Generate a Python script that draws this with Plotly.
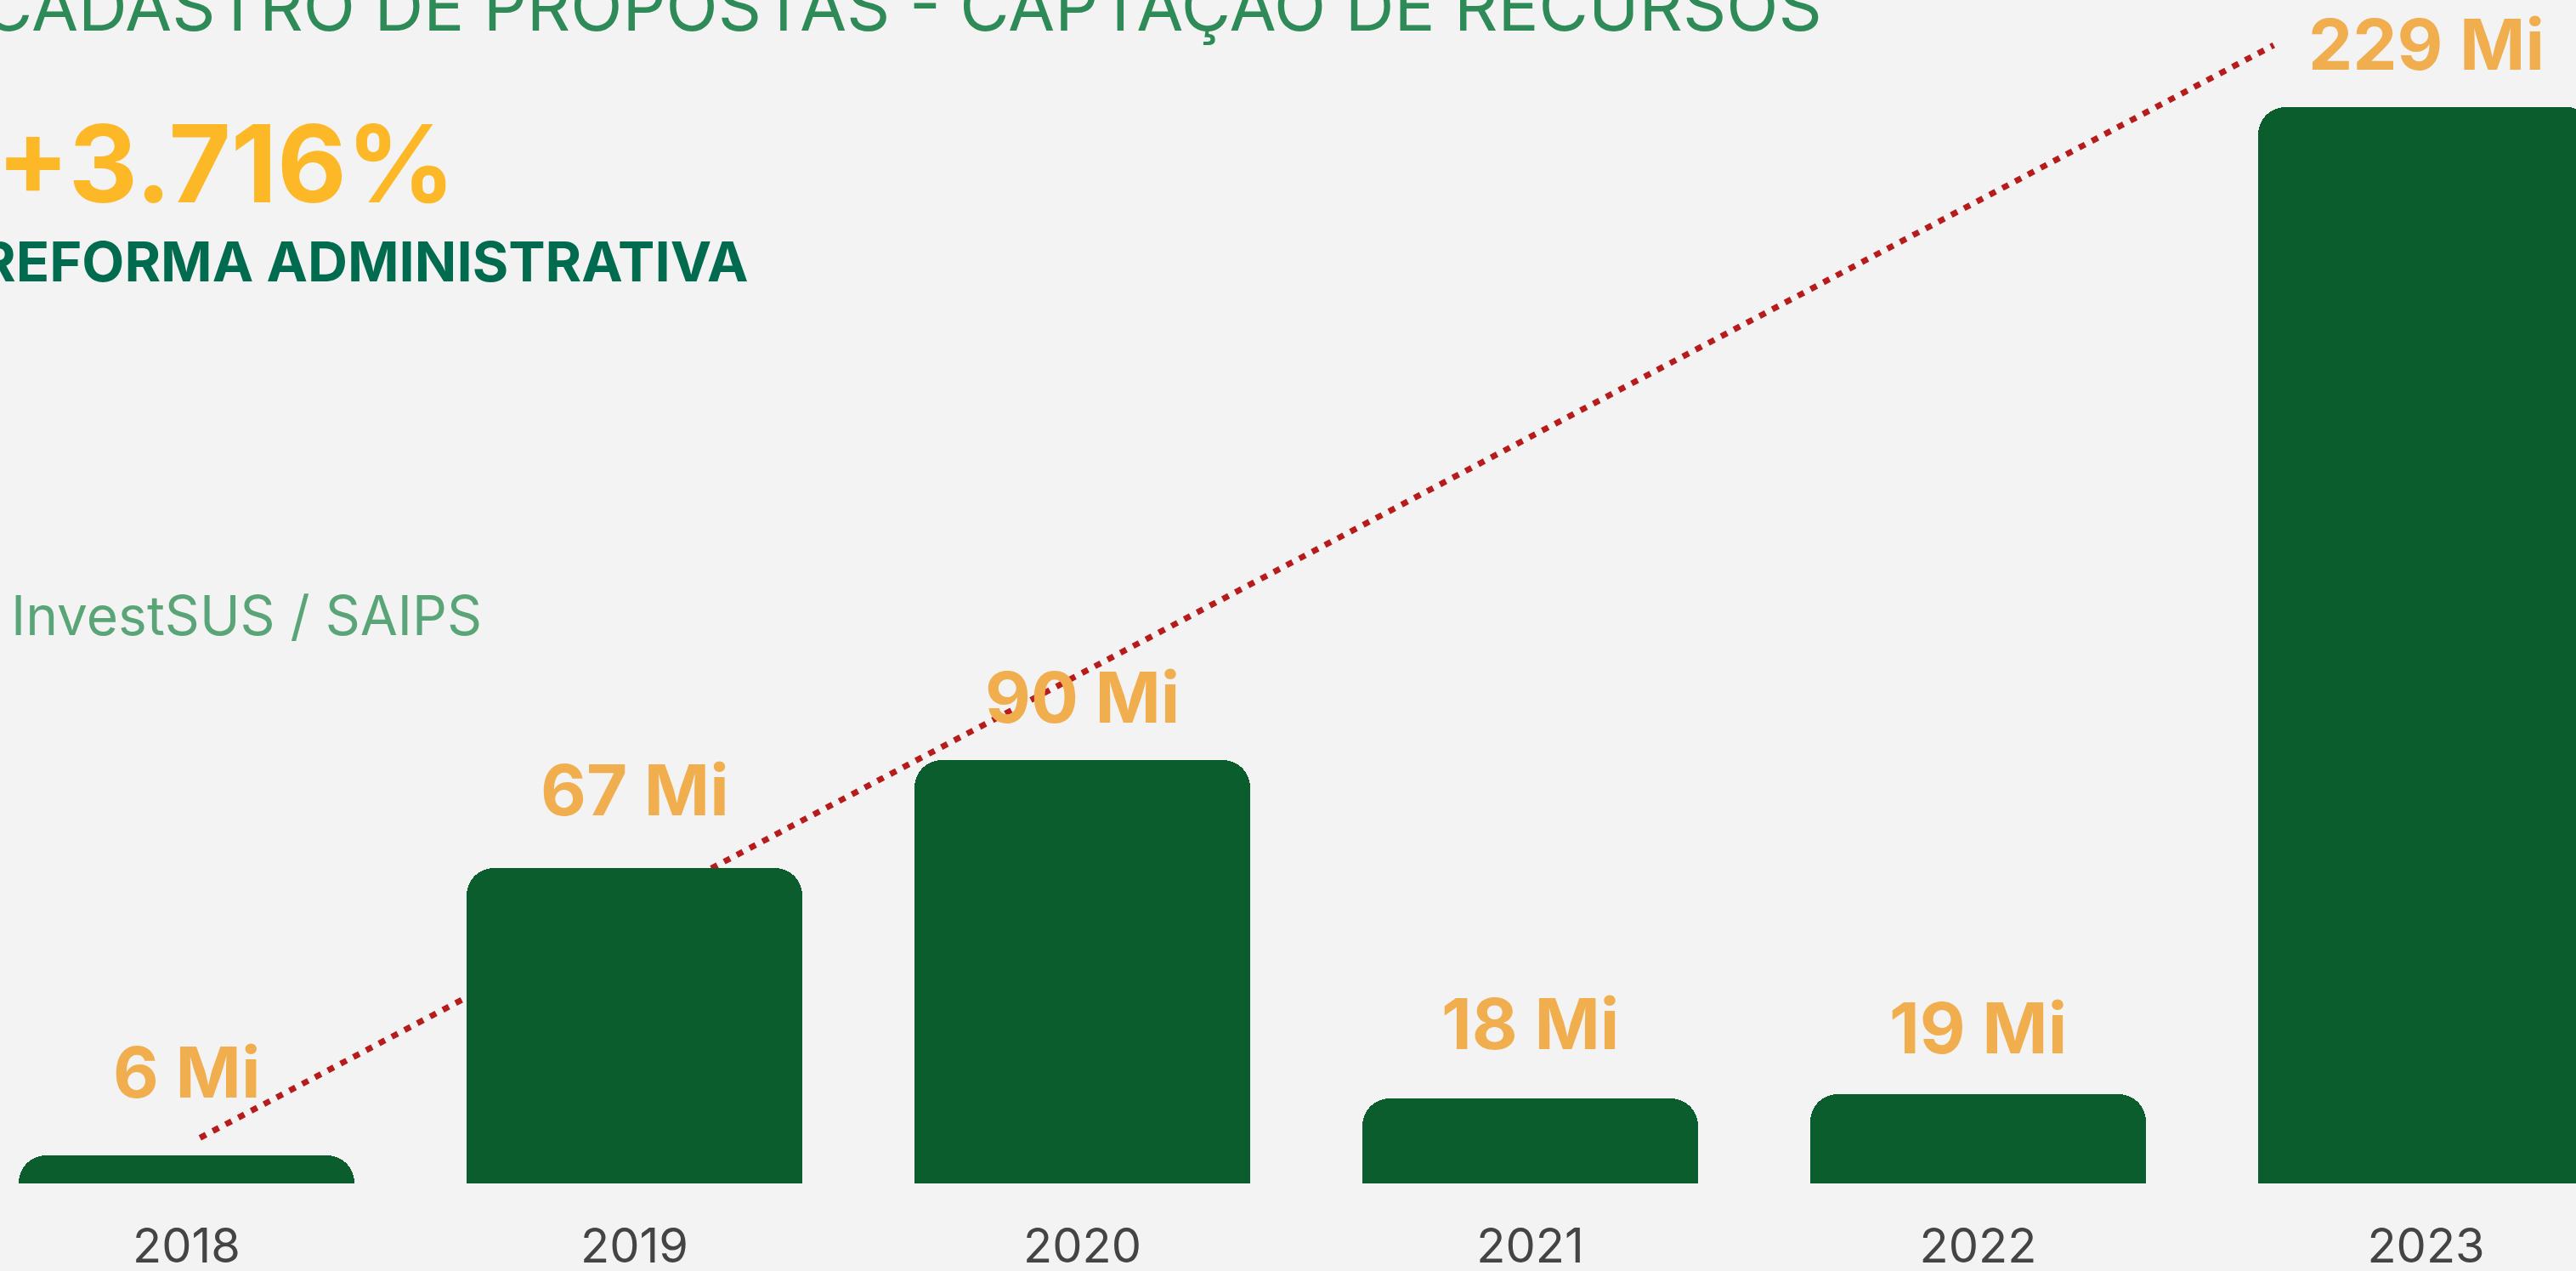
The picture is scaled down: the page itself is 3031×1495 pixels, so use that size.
import plotly.graph_objects as go

# ---- data ----
years = [2018, 2019, 2020, 2021, 2022, 2023]
year_labels = ["2018", "2019", "2020", "2021", "2022", "2023"]
values_mi = [6, 67, 90, 18, 19, 229]
value_labels = ["6 Mi", "67 Mi", "90 Mi", "18 Mi", "19 Mi", "229 Mi"]
trend_x = [2018.03, 2022.66]
trend_y = [9.7, 242.1]

title_text = "CADASTRO DE PROPOSTAS - CAPTAÇÃO DE RECURSOS"
kpi_text = "+3.716%"
kpi_sub = "REFORMA ADMINISTRATIVA"
source_text = "InvestSUS / SAIPS"

# ---- style ----
BG = "#F3F3F3"
BAR = "#0B5D2E"
LABEL = "#F1AE4F"
LINE = "#B71C1C"
FONT = "Inter"
label_gap = [66, 60, 42, 56, 46, 42]

fig = go.Figure()
fig.add_trace(go.Scatter(
    x=trend_x, y=trend_y, mode="lines",
    line=dict(color=LINE, width=7, dash="8px,9px"),
    zorder=0, hoverinfo="skip", showlegend=False,
))
fig.add_trace(go.Bar(
    x=years, y=values_mi, width=0.75,
    marker=dict(color=BAR, cornerradius=32, line=dict(width=0)),
    zorder=1, showlegend=False,
))

annotations = []
for xv, yv, t, g in zip(years, values_mi, value_labels, label_gap):
    annotations.append(dict(
        x=xv, y=yv, xref="x", yref="y", text=t, showarrow=False,
        xanchor="center", yanchor="bottom", yshift=g - 20,
        font=dict(family=FONT, size=83, color=LABEL, weight=700),
    ))

annotations += [
    dict(x=0, y=1, xref="paper", yref="paper", text=title_text, showarrow=False,
         xanchor="left", yanchor="top", xshift=-22, yshift=44,
         font=dict(family=FONT, size=80, color="#2E8B57", weight=400)),
    dict(x=0, y=1, xref="paper", yref="paper", text=kpi_text, showarrow=False,
         xanchor="left", yanchor="top", xshift=-6, yshift=-114,
         font=dict(family=FONT, size=126, color="#FDB827", weight=700)),
    dict(x=0, y=1, xref="paper", yref="paper", text=kpi_sub, showarrow=False,
         xanchor="left", yanchor="top", xshift=-26, yshift=-266,
         font=dict(family=FONT, size=65, color="#006B4F", weight=700)),
    dict(x=0, y=1, xref="paper", yref="paper", text=source_text, showarrow=False,
         xanchor="left", yanchor="top", xshift=11, yshift=-683,
         font=dict(family=FONT, size=64, color="#5AA577", weight=400)),
]

fig.update_layout(
    width=3031, height=1495,
    margin=dict(l=0, r=0, t=0, b=103, autoexpand=False),
    paper_bgcolor=BG, plot_bgcolor=BG,
    annotations=annotations,
    bargap=0,
    xaxis=dict(range=[2017.5835, 2023.3349], tickvals=years, ticktext=year_labels,
               showgrid=False, zeroline=False, showline=False, ticks="",
               automargin=False, ticklabelstandoff=36,
               tickfont=dict(family=FONT, size=56, color="#444444", weight=400)),
    yaxis=dict(range=[0, 251.7], visible=False, showgrid=False, zeroline=False,
               automargin=False),
)

fig.write_html("out.html", config={"displayModeBar": False},
               post_script="document.body.style.margin='0';document.body.style.overflow='hidden';")
